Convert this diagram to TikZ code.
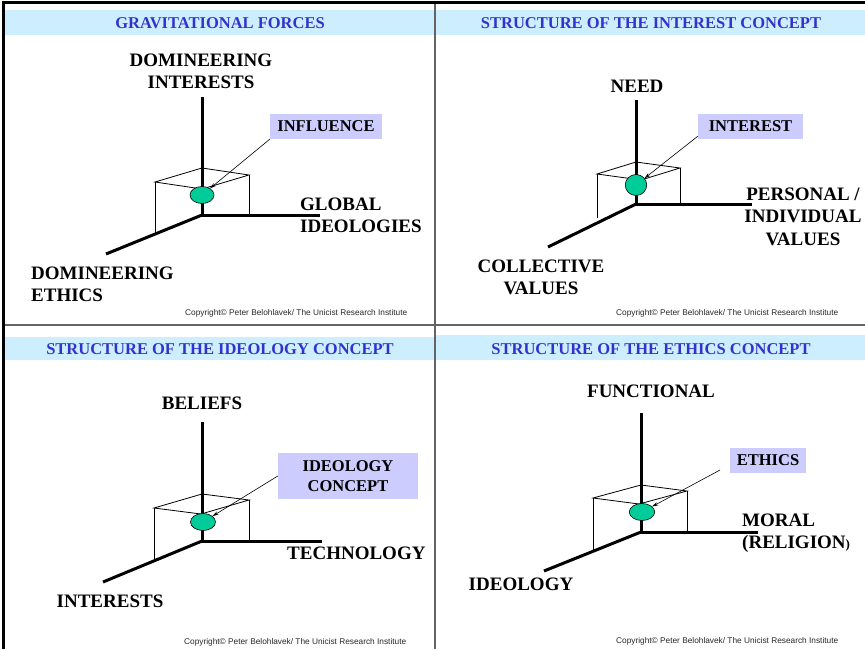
\documentclass[tikz,border=0pt]{standalone}
\usepackage{fontspec}
\setmainfont{Liberation Serif}
\newfontfamily\arialfont{Liberation Sans}
\usetikzlibrary{shapes.geometric,arrows.meta}

\definecolor{barblue}{RGB}{204,238,255}
\definecolor{titleblue}{RGB}{51,51,204}
\definecolor{tagfill}{RGB}{204,204,255}
\definecolor{coregreen}{RGB}{0,204,153}
\definecolor{rulegray}{RGB}{100,100,100}
\definecolor{copygray}{RGB}{40,40,40}

\tikzset{
  axisline/.style={line width=3pt},
  cubeline/.style={line width=0.8pt},
  core/.style={ellipse, draw, line width=0.6pt, fill=coregreen, inner sep=0pt,
               minimum width=25pt, minimum height=17pt},
  tag/.style={fill=tagfill, inner sep=0pt, align=center,
              font=\fontsize{16.5}{20}\selectfont\bfseries},
  axlabel/.style={inner sep=0pt, font=\fontsize{19}{22.5}\selectfont\bfseries},
  paneltitle/.style={inner sep=0pt, anchor=base, text=titleblue,
              font=\fontsize{16.5}{20}\selectfont\bfseries},
  copyline/.style={inner sep=0pt, anchor=base west, text=copygray,
              font=\arialfont\fontsize{8.3}{10}\selectfont},
  pointer/.style={line width=0.6pt, -{Stealth[length=6pt,width=3.5pt]}},
  titlebar/.style={fill=barblue, draw=none}
}

\begin{document}
\begin{tikzpicture}[x=1pt,y=-1pt]
\useasboundingbox (0,0) rectangle (865,649);
\fill[white] (0,0) rectangle (865,649);

% title bars
\fill[titlebar] (5,10) rectangle (434,35);
\fill[titlebar] (436,10) rectangle (865,35);
\fill[titlebar] (5,337) rectangle (434,360);
\fill[titlebar] (436,335) rectangle (865,360);

% frame and dividers
\draw[rulegray, line width=2pt] (435,2) -- (435,649);
\draw[rulegray, line width=2pt] (3,325) -- (865,325);
\draw[black, line width=2.2pt] (2.4,2.5) -- (865,2.5);
\draw[black, line width=2.2pt] (3.5,1.4) -- (3.5,649);

% ---------------- panel 1: gravitational forces ----------------
\node[paneltitle] (t1) at (220,28.8) {GRAVITATIONAL FORCES};
\coordinate (o1) at (202,215);
\coordinate (up1) at (202,97);
\coordinate (rt1) at (320,215);
\coordinate (dg1) at (106,254);
\coordinate (cl1) at (155,182);
\coordinate (cb1) at (202,168);
\coordinate (cr1) at (249,175);
\coordinate (cf1) at (202,189);
\draw[cubeline] (cl1) -- (cb1) -- (cr1) -- (cf1) -- cycle;
\draw[cubeline] (cl1) -- (155,234);
\draw[cubeline] (cr1) -- (249,215);
\draw[axisline] (up1) -- (o1) -- (rt1);
\draw[axisline] (o1) -- (dg1);
\node[core, minimum width=24pt] (e1) at (202,195) {};
\node[tag, minimum width=112pt, minimum height=25pt] (b1) at (326,126.5) {INFLUENCE};
\draw[pointer] (b1.south west) -- (e1);
\node[axlabel, align=center] (a1) at (201,71.5) {DOMINEERING\\INTERESTS};
\node[axlabel, align=left, anchor=west] (g1) at (300,215.5) {GLOBAL\\IDEOLOGIES};
\node[axlabel, align=left, anchor=west] (d1) at (31,284.5) {DOMINEERING\\ETHICS};
\node[copyline] (c1) at (185,315) {Copyright© Peter Belohlavek/ The Unicist Research Institute};

% ---------------- panel 2: interest concept ----------------
\node[paneltitle] (t2) at (651,28.8) {STRUCTURE OF THE INTEREST CONCEPT};
\coordinate (o2) at (636,204);
\coordinate (up2) at (636,100);
\coordinate (rt2) at (752,204);
\coordinate (dg2) at (548,247);
\coordinate (cl2) at (597,174);
\coordinate (cb2) at (636,162);
\coordinate (cr2) at (680,168);
\coordinate (cf2) at (641,180);
\draw[cubeline] (cl2) -- (cb2) -- (cr2) -- (cf2) -- cycle;
\draw[cubeline] (cl2) -- (597,218);
\draw[cubeline] (cr2) -- (680,204);
\draw[axisline] (up2) -- (o2) -- (rt2);
\draw[axisline] (o2) -- (dg2);
\node[core, minimum width=21.5pt, minimum height=21pt] (e2) at (636,185) {};
\node[tag, minimum width=105pt, minimum height=25pt] (b2) at (750.5,126.5) {INTEREST};
\draw[pointer] ([yshift=3pt]b2.south west) -- (e2);
\node[axlabel] (a2) at (637,86) {NEED};
\node[axlabel, align=center] (g2) at (803,216.5) {PERSONAL /\\INDIVIDUAL\\VALUES};
\node[axlabel, align=center] (d2) at (541,277.5) {COLLECTIVE\\VALUES};
\node[copyline] (c2) at (616,315) {Copyright© Peter Belohlavek/ The Unicist Research Institute};

% ---------------- panel 3: ideology concept ----------------
\node[paneltitle] (t3) at (220,354.5) {STRUCTURE OF THE IDEOLOGY CONCEPT};
\coordinate (o3) at (202,541);
\coordinate (up3) at (202,422);
\coordinate (rt3) at (322,541);
\coordinate (dg3) at (103,582);
\coordinate (cl3) at (154,508);
\coordinate (cb3) at (202,494);
\coordinate (cr3) at (249,500);
\coordinate (cf3) at (201,514);
\draw[cubeline] (cl3) -- (cb3) -- (cr3) -- (cf3) -- cycle;
\draw[cubeline] (cl3) -- (154,561);
\draw[cubeline] (cr3) -- (249,541);
\draw[axisline] (up3) -- (o3) -- (rt3);
\draw[axisline] (o3) -- (dg3);
\node[core] (e3) at (203,522) {};
\node[tag, minimum width=140pt, minimum height=46pt] (b3) at (348,476) {IDEOLOGY\\CONCEPT};
\draw[pointer] (b3.west) -- (e3);
\node[axlabel] (a3) at (202,403) {BELIEFS};
\node[axlabel, anchor=west] (g3) at (287,553) {TECHNOLOGY};
\node[axlabel] (d3) at (110,601) {INTERESTS};
\node[copyline] (c3) at (184,644) {Copyright© Peter Belohlavek/ The Unicist Research Institute};

% ---------------- panel 4: ethics concept ----------------
\node[paneltitle] (t4) at (651,354.5) {STRUCTURE OF THE ETHICS CONCEPT};
\coordinate (o4) at (641,532);
\coordinate (up4) at (641,413);
\coordinate (rt4) at (758,532);
\coordinate (dg4) at (544,571);
\coordinate (cl4) at (593,498);
\coordinate (cb4) at (641,485);
\coordinate (cr4) at (687,491);
\coordinate (cf4) at (639,504);
\draw[cubeline] (cl4) -- (cb4) -- (cr4) -- (cf4) -- cycle;
\draw[cubeline] (cl4) -- (593,550);
\draw[cubeline] (cr4) -- (687,532);
\draw[axisline] (up4) -- (o4) -- (rt4);
\draw[axisline] (o4) -- (dg4);
\node[core, minimum width=25.5pt] (e4) at (642,512) {};
\node[tag, minimum width=76pt, minimum height=25pt] (b4) at (768,460.5) {ETHICS};
\coordinate (p4) at (720,470);
\draw[pointer] (p4) -- (e4);
\node[axlabel] (a4) at (651,391) {FUNCTIONAL};
\node[axlabel, align=left, anchor=north west] (g4) at (742,513.7) {MORAL\\(RELIGION{\fontsize{13}{13}\selectfont)}};
\node[axlabel] (d4) at (521,584) {IDEOLOGY};
\node[copyline] (c4) at (616,643) {Copyright© Peter Belohlavek/ The Unicist Research Institute};
\end{tikzpicture}
\end{document}
